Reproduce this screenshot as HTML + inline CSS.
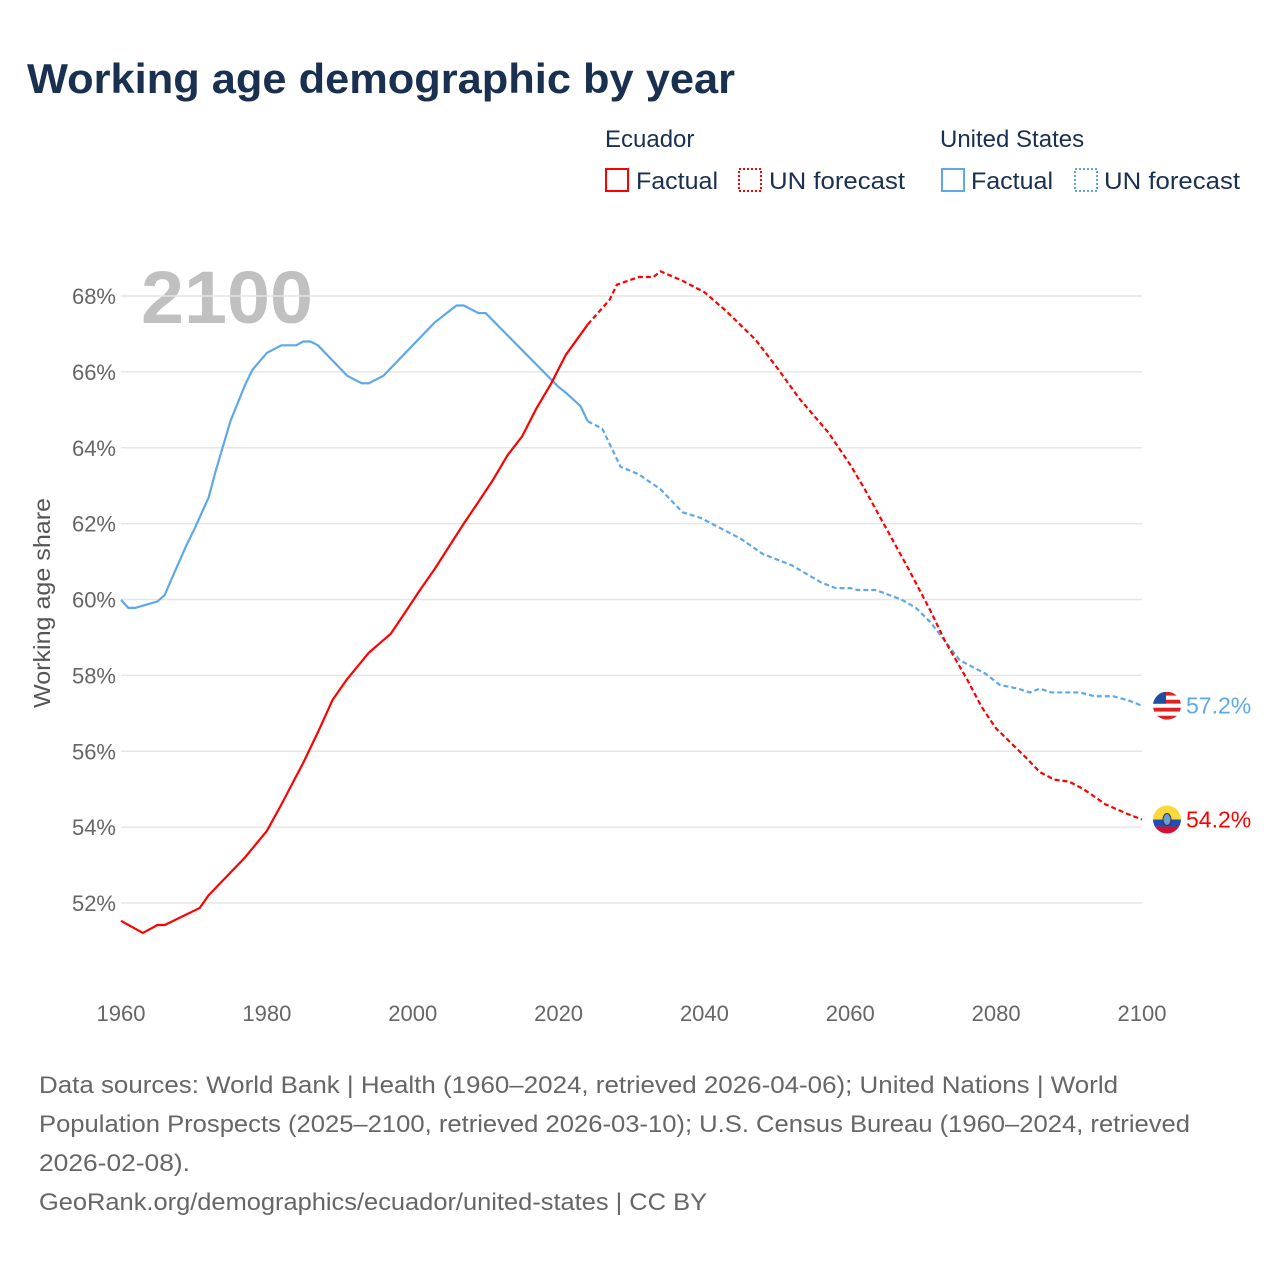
<!DOCTYPE html>
<html><head><meta charset="utf-8">
<style>
html,body{margin:0;padding:0;background:#fff;}
body{width:1280px;height:1280px;overflow:hidden;font-family:"Liberation Sans",sans-serif;}
svg text{font-family:"Liberation Sans",sans-serif;}
</style></head>
<body>
<svg id="chart" width="1280" height="1280" viewBox="0 0 1280 1280" xmlns="http://www.w3.org/2000/svg">
  <text x="27" y="93" font-size="42" font-weight="bold" fill="#1a3050" textLength="708" lengthAdjust="spacingAndGlyphs">Working age demographic by year</text>
  <g fill="#1a3050" font-size="24">
    <text x="605" y="147">Ecuador</text>
    <text x="940" y="147">United States</text>
    <g>
      <rect x="606" y="169" width="22" height="22" fill="none" stroke="#ff0000" stroke-width="2"/>
      <text x="636" y="189" textLength="82" lengthAdjust="spacingAndGlyphs">Factual</text>
    </g>
    <g>
      <rect x="739" y="169" width="22" height="22" fill="none" stroke="#ff0000" stroke-width="2" stroke-dasharray="2,2"/>
      <text x="769" y="189" textLength="136" lengthAdjust="spacingAndGlyphs">UN forecast</text>
    </g>
    <g>
      <rect x="942" y="169" width="22" height="22" fill="none" stroke="#5fa8e8" stroke-width="2"/>
      <text x="971" y="189" textLength="82" lengthAdjust="spacingAndGlyphs">Factual</text>
    </g>
    <g>
      <rect x="1075" y="169" width="22" height="22" fill="none" stroke="#5fa8e8" stroke-width="2" stroke-dasharray="2,2"/>
      <text x="1104" y="189" textLength="136" lengthAdjust="spacingAndGlyphs">UN forecast</text>
    </g>
  </g>
  <text x="141" y="323" font-size="74" font-weight="bold" fill="#c0c0c0" textLength="172" lengthAdjust="spacingAndGlyphs">2100</text>
  <text transform="translate(50,603) rotate(-90)" text-anchor="middle" font-size="23" fill="#555" textLength="210" lengthAdjust="spacingAndGlyphs">Working age share</text>
  <g id="grid"></g>
  <g id="yticks"></g>
  <g id="xticks"></g>
  <g id="series"></g>
  <g font-size="24" fill="#666">
    <text x="39" y="1093" textLength="1079" lengthAdjust="spacingAndGlyphs">Data sources: World Bank | Health (1960–2024, retrieved 2026-04-06); United Nations | World</text>
    <text x="39" y="1132" textLength="1151" lengthAdjust="spacingAndGlyphs">Population Prospects (2025–2100, retrieved 2026-03-10); U.S. Census Bureau (1960–2024, retrieved</text>
    <text x="39" y="1171" textLength="151" lengthAdjust="spacingAndGlyphs">2026-02-08).</text>
    <text x="39" y="1210" textLength="668" lengthAdjust="spacingAndGlyphs">GeoRank.org/demographics/ecuador/united-states | CC BY</text>
  </g>
</svg>
<script>
const xTicks = [1960,1980,2000,2020,2040,2060,2080,2100];
const yTicks = [52,54,56,58,60,62,64,66,68];
const usYears = [1960,1961,1962,1965,1966,1967,1969,1970,1972,1973,1975,1977,1978,1980,1982,1984,1985,1986,1987,1991,1993,1994,1996,2000,2001,2003,2006,2007,2009,2010,2020,2021,2023,2024,2026,2028.5,2031,2034,2037,2039.5,2045,2048,2052,2056,2058,2060,2061,2063.5,2067,2069,2071,2073,2075,2078.5,2080.5,2083,2084.6,2086,2087.6,2091.5,2093.5,2096,2098,2100];
const usValues = [59.99,59.78,59.78,59.95,60.12,60.57,61.44,61.83,62.68,63.4,64.7,65.65,66.05,66.5,66.7,66.7,66.8,66.8,66.7,65.9,65.7,65.7,65.9,66.7,66.9,67.3,67.75,67.75,67.55,67.55,65.6,65.45,65.1,64.7,64.5,63.5,63.3,62.9,62.3,62.15,61.6,61.2,60.9,60.45,60.3,60.3,60.25,60.25,60.0,59.78,59.4,58.9,58.4,58.05,57.75,57.65,57.55,57.65,57.55,57.55,57.45,57.45,57.35,57.2];
const ecYears = [1960,1963,1965,1966,1970.8,1972,1975,1977,1980,1982,1985,1987,1989,1991,1994,1997,1999,2001,2003,2005,2007,2009,2011,2013,2015,2017,2019,2021,2024,2027,2028,2031,2033,2034,2037,2040,2043,2047,2050,2053,2057,2060,2062,2065,2068,2071,2073,2076,2078,2080,2084,2086,2088,2090,2092,2095,2098,2100];
const ecValues = [51.53,51.21,51.42,51.42,51.87,52.2,52.8,53.2,53.9,54.6,55.7,56.5,57.35,57.9,58.6,59.1,59.67,60.25,60.8,61.4,62.0,62.57,63.15,63.8,64.3,65.05,65.7,66.45,67.25,67.9,68.3,68.5,68.5,68.65,68.4,68.1,67.6,66.85,66.1,65.3,64.4,63.55,62.9,61.85,60.8,59.7,58.9,57.9,57.17,56.6,55.85,55.45,55.25,55.2,55.0,54.6,54.35,54.2];
const lastFactualYear = 2024;

const NS='http://www.w3.org/2000/svg';
const X = y => 121 + (y-1960)*(1142-121)/140;
const Y = v => 296 + (68-v)*(903-296)/16;
function mk(tag, attrs, parent){const e=document.createElementNS(NS,tag);for(const k in attrs)e.setAttribute(k,attrs[k]);parent.appendChild(e);return e;}
const grid=document.getElementById('grid'), yt=document.getElementById('yticks'), xt=document.getElementById('xticks'), ser=document.getElementById('series');
yTicks.forEach(v=>{
  const l=mk('line',{x1:121,x2:1142,y1:Y(v),y2:Y(v),stroke:'#e6e6e6','stroke-width':1.5},grid);
  
  
  const t=mk('text',{x:116,y:Y(v)+8,'text-anchor':'end','font-size':22,fill:'#666'},yt);
  t.textContent=v+'%';
  
  
});
xTicks.forEach(y=>{
  const t=mk('text',{x:X(y),y:1021,'text-anchor':'middle','font-size':22,fill:'#666'},xt);
  t.textContent=y;
  
  
});
function draw(years, vals, color, name){
  const fact=[], fc=[];
  years.forEach((y,i)=>{ if(y<=lastFactualYear) fact.push([X(y),Y(vals[i])]); if(y>=lastFactualYear) fc.push([X(y),Y(vals[i])]); });
  const p1=mk('polyline',{points:fact.map(p=>p.join(',')).join(' '),fill:'none',stroke:color,'stroke-width':2.2,'stroke-linejoin':'round'},ser);
  
  
  const p2=mk('polyline',{points:fc.map(p=>p.join(',')).join(' '),fill:'none',stroke:color,'stroke-width':2.2,'stroke-dasharray':'5,3'},ser);
  
  
}
draw(usYears,usValues,'#5fa8e8','us');
draw(ecYears,ecValues,'#ff0000','ecuador');
function endMarker(vals, color, name, flag){
  const v=vals[vals.length-1], cy=Y(v), cx=1167;
  const g=mk('g',{},ser);
  
  
  const clipId='clip-'+name;
  const cp=mk('clipPath',{id:clipId},g); mk('circle',{cx:cx,cy:cy,r:14},cp);
  const fg=mk('g',{'clip-path':'url(#'+clipId+')'},g);
  if(flag==='us'){
    for(let i=0;i<7;i++) mk('rect',{x:cx-14,y:cy-14+i*4,width:28,height:4,fill:i%2?'#fff':'#d22'},fg);
    mk('rect',{x:cx-14,y:cy-14,width:13,height:12,fill:'#1c4fa0'},fg);
  } else {
    mk('rect',{x:cx-14,y:cy-14,width:28,height:14,fill:'#fcd83a'},fg);
    mk('rect',{x:cx-14,y:cy,width:28,height:7,fill:'#1e4db7'},fg);
    mk('rect',{x:cx-14,y:cy+7,width:28,height:7,fill:'#d21034'},fg);
    mk('ellipse',{cx:cx,cy:cy,rx:4,ry:6,fill:'#6aa0d8',stroke:'#333','stroke-width':1},fg);
  }
  const t=mk('text',{x:1186,y:cy+8,'font-size':23,fill:color},g);
  t.textContent=v.toFixed(1)+'%';
}
endMarker(usValues,'#5fa8e8','us','us');
endMarker(ecValues,'#ff0000','ecuador','ec');
</script>
</body></html>
